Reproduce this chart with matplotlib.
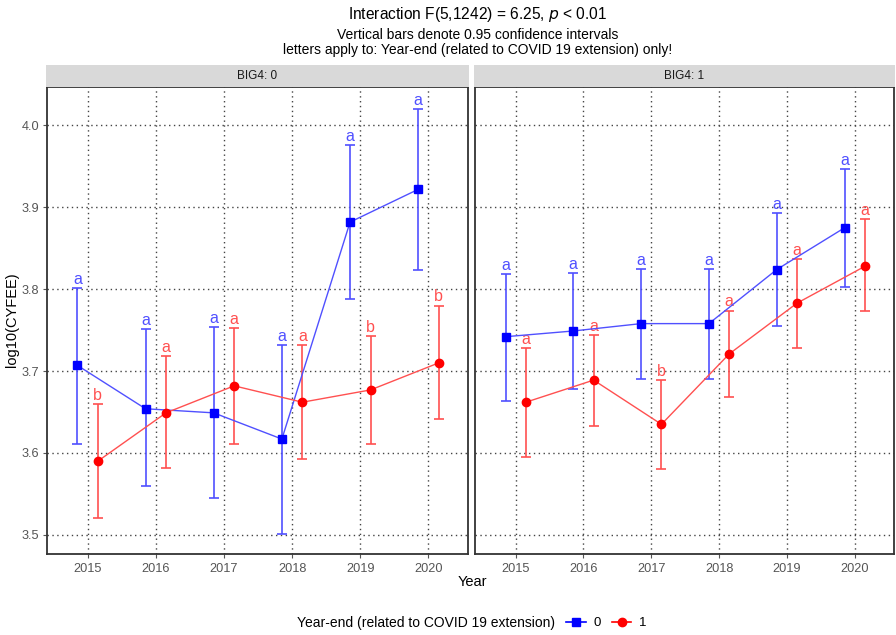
import matplotlib
matplotlib.use("Agg")
import matplotlib.pyplot as plt
from matplotlib.lines import Line2D
import numpy as np

plt.rcParams['font.family'] = ['Liberation Sans', 'DejaVu Sans']

years = [2015, 2016, 2017, 2018, 2019, 2020]
panels = ["BIG4: 0", "BIG4: 1"]

# BIG4 = 0
p0_blue_mean = [3.707, 3.654, 3.649, 3.617, 3.882, 3.922]
p0_blue_hi   = [3.801, 3.751, 3.754, 3.732, 3.976, 4.020]
p0_blue_lo   = [3.611, 3.560, 3.545, 3.501, 3.788, 3.823]
p0_red_mean  = [3.590, 3.649, 3.682, 3.662, 3.677, 3.710]
p0_red_hi    = [3.660, 3.718, 3.753, 3.732, 3.743, 3.780]
p0_red_lo    = [3.521, 3.582, 3.611, 3.593, 3.611, 3.641]
p0_blue_let  = ["a", "a", "a", "a", "a", "a"]
p0_red_let   = ["b", "a", "a", "a", "b", "b"]

# BIG4 = 1
p1_blue_mean = [3.742, 3.749, 3.758, 3.758, 3.824, 3.875]
p1_blue_hi   = [3.818, 3.820, 3.825, 3.825, 3.893, 3.947]
p1_blue_lo   = [3.663, 3.678, 3.690, 3.690, 3.755, 3.803]
p1_red_mean  = [3.662, 3.689, 3.635, 3.721, 3.783, 3.828]
p1_red_hi    = [3.728, 3.744, 3.689, 3.774, 3.837, 3.886]
p1_red_lo    = [3.595, 3.633, 3.580, 3.668, 3.728, 3.774]
p1_blue_let  = ["a", "a", "a", "a", "a", "a"]
p1_red_let   = ["a", "a", "b", "a", "a", "a"]

groups = ["0", "1"]
yticks = [3.5, 3.6, 3.7, 3.8, 3.9, 4.0]

W, H = 896, 635
fig = plt.figure(figsize=(W / 100, H / 100), dpi=100)

def fx(px):
    return px / W

def fy(py):
    return 1 - py / H

blue = "#0000FF"
red = "#FF0000"
blue_l = "#5050FF"
red_l = "#FF5050"
dodge = 0.15

panel_px = [(46.7, 468), (475, 894)]
top_px, bot_px = 87, 554
strip_top = 65

data = [
    (p0_blue_mean, p0_blue_lo, p0_blue_hi, p0_blue_let, p0_red_mean, p0_red_lo, p0_red_hi, p0_red_let),
    (p1_blue_mean, p1_blue_lo, p1_blue_hi, p1_blue_let, p1_red_mean, p1_red_lo, p1_red_hi, p1_red_let),
]

for i, (x0, x1) in enumerate(panel_px):
    ax = fig.add_axes([fx(x0), fy(bot_px), fx(x1 - x0), (bot_px - top_px) / H])
    bm, blo, bhi, blet, rm, rlo, rhi, rlet = data[i]
    yr = np.array(years, dtype=float)
    for (m, lo, hi, let, off, col, coll, mk, ms) in [
        (bm, blo, bhi, blet, -dodge, blue, blue_l, "s", 5.5),
        (rm, rlo, rhi, rlet, dodge, red, red_l, "o", 6),
    ]:
        xs = yr + off
        m = np.array(m); lo = np.array(lo); hi = np.array(hi)
        ax.errorbar(xs, m, yerr=[m - lo, hi - m], fmt="none", ecolor=coll,
                    elinewidth=1.2, capsize=3.5, capthick=1.2, zorder=3)
        ax.plot(xs, m, color=coll, lw=1.0, zorder=4)
        ax.plot(xs, m, linestyle="none", marker=mk, ms=ms, color=col, zorder=5)
        for x, h, t in zip(xs, hi, let):
            ax.annotate(t, (x, h), xytext=(0, 3), textcoords="offset points",
                        ha="center", va="baseline", color=coll, fontsize=11.5)
    ax.set_xlim(2014.4, 2020.58)
    ax.set_ylim(3.4766, 4.047)
    ax.set_xticks(years)
    ax.set_xticklabels([str(y) for y in years])
    ax.set_yticks(yticks)
    if i == 0:
        ax.set_yticklabels([f"{v:.1f}" for v in yticks])
    else:
        ax.set_yticklabels([])
    ax.grid(True, linestyle=(0, (1, 2.5)), color="#444444", lw=1.0, zorder=0)
    ax.set_axisbelow(True)
    ax.tick_params(axis="both", colors="#555555", labelsize=9.2, length=3, width=0.8,
                   labelcolor="#555555")
    ax.tick_params(axis="y", length=0 if i == 1 else 3, pad=2.5)
    for s in ax.spines.values():
        s.set_color("#333333")
        s.set_linewidth(1.3)
    # strip
    sax = fig.add_axes([fx(x0 - 1), fy(top_px), fx(x1 - x0 + 2), (top_px - strip_top) / H])
    sax.set_facecolor("#D9D9D9")
    sax.set_xticks([]); sax.set_yticks([])
    for s in sax.spines.values():
        s.set_visible(False)
    sax.text(0.5, 0.5, panels[i], ha="center", va="center", fontsize=8.5,
             color="#1A1A1A", transform=sax.transAxes)

fig.text(fx(478), fy(14), "Interaction F(5,1242) = 6.25, $p$ < 0.01", ha="center",
         va="center", fontsize=11.2)
fig.text(fx(478), fy(35), "Vertical bars denote 0.95 confidence intervals", ha="center",
         va="center", fontsize=10)
fig.text(fx(478), fy(50), "letters apply to: Year-end (related to COVID 19 extension) only!",
         ha="center", va="center", fontsize=10)
fig.text(fx(12), fy(320), "log10(CYFEE)", rotation=90, ha="center", va="center", fontsize=10.5)
fig.text(fx(472), fy(582), "Year", ha="center", va="center", fontsize=10.5)

fig.text(fx(555), fy(623), "Year-end (related to COVID 19 extension)", ha="right",
         va="center", fontsize=10)
handles = [
    Line2D([0], [0], color=blue, marker="s", ms=5.5, lw=1.2),
    Line2D([0], [0], color=red, marker="o", ms=6, lw=1.2),
]
fig.legend(handles, groups, loc="center left", bbox_to_anchor=(fx(566), fy(623)),
           ncol=2, frameon=False, handlelength=1.5, handletextpad=0.6,
           columnspacing=0.8, fontsize=9.5, borderpad=0, borderaxespad=0)

fig.savefig("out.png", dpi=100)
